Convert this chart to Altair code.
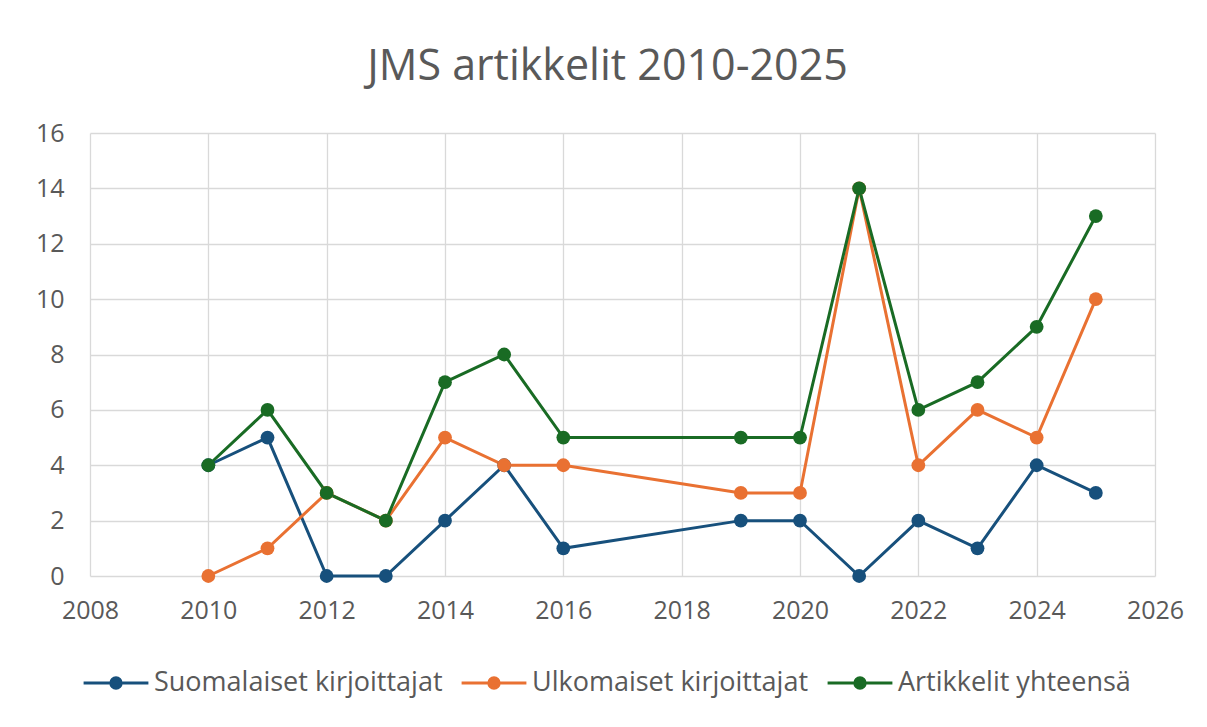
import altair as alt
import pandas as pd

years = [2010, 2011, 2012, 2013, 2014, 2015, 2016, 2019, 2020, 2021, 2022, 2023, 2024, 2025]
suomalaiset = [4, 5, 0, 0, 2, 4, 1, 2, 2, 0, 2, 1, 4, 3]
ulkomaiset = [0, 1, 3, 2, 5, 4, 4, 3, 3, 14, 4, 6, 5, 10]
yhteensa = [4, 6, 3, 2, 7, 8, 5, 5, 5, 14, 6, 7, 9, 13]
series_names = ["Suomalaiset kirjoittajat", "Ulkomaiset kirjoittajat", "Artikkelit yhteensä"]
colors = ["#17507C", "#E97132", "#196B24"]
x_ticks = list(range(2008, 2027, 2))
y_ticks = list(range(0, 17, 2))

rows = []
for i, (name, vals) in enumerate(zip(series_names, [suomalaiset, ulkomaiset, yhteensa])):
    for yr, v in zip(years, vals):
        rows.append({"Vuosi": yr, "Arvo": v, "Sarja": name, "jarjestys": i})
df = pd.DataFrame(rows)

FONT = "Open Sans"
TXT = "#595959"

legend_symbol = "M-1,0H1M-0.16,0a0.16,0.16 0 1,0 0.32,0a0.16,0.16 0 1,0 -0.32,0"

color = alt.Color(
    "Sarja:N",
    scale=alt.Scale(domain=series_names, range=colors),
    sort=series_names,
    legend=alt.Legend(
        title=None,
        orient="none",
        direction="horizontal",
        legendX=-8,
        legendY=516,
        padding=0,
        symbolType=legend_symbol,
        symbolSize=4200,
        symbolStrokeWidth=3,
        labelFont=FONT,
        labelFontSize=27,
        labelColor=TXT,
        labelOffset=4,
        columnPadding=12,
        labelLimit=500,
    ),
)

base = alt.Chart(df).encode(
    x=alt.X(
        "Vuosi:Q",
        scale=alt.Scale(domain=[2008, 2026], nice=False, zero=False),
        axis=alt.Axis(values=x_ticks, format="d", title=None, labelPadding=22, labelFlush=False),
    ),
    y=alt.Y(
        "Arvo:Q",
        scale=alt.Scale(domain=[0, 16], nice=False),
        axis=alt.Axis(values=y_ticks, title=None, labelPadding=26),
    ),
    color=color,
    detail="Sarja:N",
)

lines = base.mark_line(strokeWidth=3).encode(order="Vuosi:Q")
points = base.mark_circle(size=190, opacity=1)

chart = (
    alt.layer(lines, points)
    .properties(
        width=1065,
        height=443,
        title=alt.Title(
            "JMS artikkelit 2010-2025",
            font=FONT,
            fontSize=43,
            fontWeight="normal",
            color=TXT,
            anchor="middle",
            offset=32,
            dx=-15,
        ),
        autosize=alt.AutoSizeParams(type="none"),
        padding={"left": 82, "top": 125, "right": 44, "bottom": 130},
        background="white",
    )
    .configure_view(stroke=None)
    .configure_axis(
        grid=True,
        gridColor="#D9D9D9",
        gridWidth=1.3,
        domain=False,
        ticks=False,
        labelFont=FONT,
        labelFontSize=25,
        labelColor=TXT,
    )
)

chart.save("out.html", embed_options={"renderer": "svg", "actions": False})
